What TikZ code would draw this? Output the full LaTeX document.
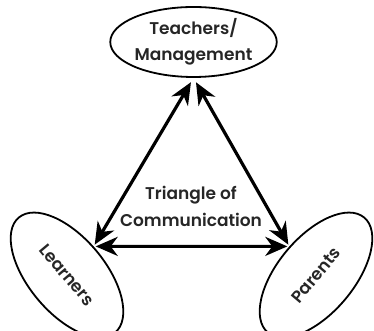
\documentclass[tikz,border=0pt]{standalone}
\usepackage{fontspec}
\setmainfont{Poppins SemiBold}
\usetikzlibrary{shapes.geometric,arrows.meta}
\begin{document}
\begin{tikzpicture}[x=1pt,y=1pt,
  txt/.style={font=\fontsize{17}{26}\selectfont,align=center,text=black!85},
  oval/.style={draw,ellipse,line width=1.8pt,inner sep=0pt,txt},
  link/.style={line width=3.2pt,{Stealth[length=22pt,width=19pt,inset=7pt]}-{Stealth[length=22pt,width=19pt,inset=7pt]}}]
\useasboundingbox (0,0) rectangle (374,331);
\node[oval,minimum width=140pt,minimum height=70pt] (T) at (193.5,289) {Teachers/\\Management};
\node[oval,minimum width=150pt,minimum height=76pt,rotate=-50] (L) at (67,56) {Learners};
\node[oval,minimum width=150pt,minimum height=76pt,rotate=50] (P) at (316,56) {Parents};
\node[txt,font=\fontsize{17}{27}\selectfont] (C) at (191,125) {Triangle of\\Communication};
\draw[link,shorten <=5pt,shorten >=2pt] (T.south) -- (L.97);
\draw[link,shorten <=5pt,shorten >=2pt] (T.south) -- (P.83);
\draw[link,shorten <=2pt,shorten >=2pt] (L.97) -- (P.83);
\end{tikzpicture}
\end{document}
